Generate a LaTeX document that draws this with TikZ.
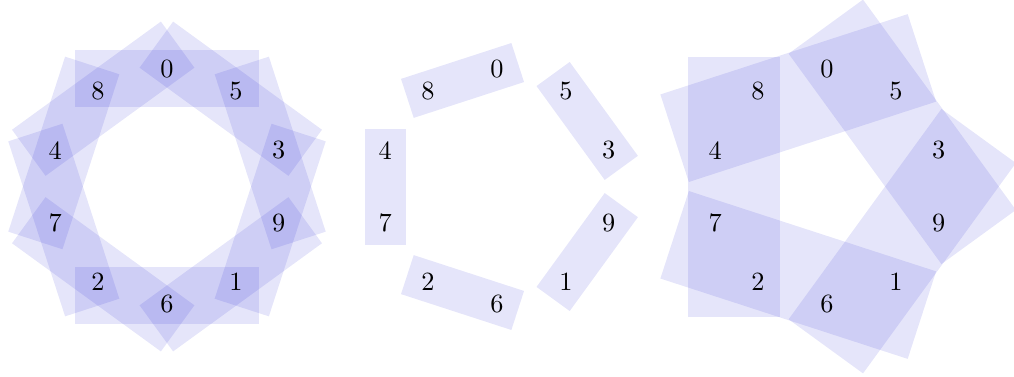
\documentclass[tikz,border=0pt]{standalone}
\usepackage{tikz}

\tikzset{
  box/.style={fill=blue!80!black, fill opacity=0.1},
  num/.style={inner sep=0pt}
}

\begin{document}
\begin{tikzpicture}[x=0.38pt, y=0.38pt]
    \useasboundingbox (0,0) rectangle (1014,376);
    % ten strips of three
    \begin{scope}[shift={(167,189.5)}]
      \foreach \k in {0,...,9} {
        \fill[box, rotate=90-36*\k] (80,-92) rectangle (137,92);
      }
      \foreach \d [count=\k from 0] in {0,5,3,9,1,6,2,7,4,8} {
        \node[num] (a\d) at ({90-36*\k}:117.5) {\d};
      }
    \end{scope}
    % five strips of two
    \begin{scope}[shift={(497,189.5)}]
      \foreach \a in {108,36,-36,-108,180} {
        \fill[box, rotate=\a] (91,-58) rectangle (132,58);
      }
      \foreach \d [count=\k from 0] in {0,5,3,9,1,6,2,7,4,8} {
        \node[num] (b\d) at ({90-36*\k}:117.5) {\d};
      }
    \end{scope}
    % five strips of four
    \begin{scope}[shift={(827,189.5)}]
      \foreach \a in {108,36,-36,-108,180} {
        \fill[box, rotate=\a] (47,-130) rectangle (139,130);
      }
      \foreach \d [count=\k from 0] in {0,5,3,9,1,6,2,7,4,8} {
        \node[num] (c\d) at ({90-36*\k}:117.5) {\d};
      }
    \end{scope}
\end{tikzpicture}
\end{document}
